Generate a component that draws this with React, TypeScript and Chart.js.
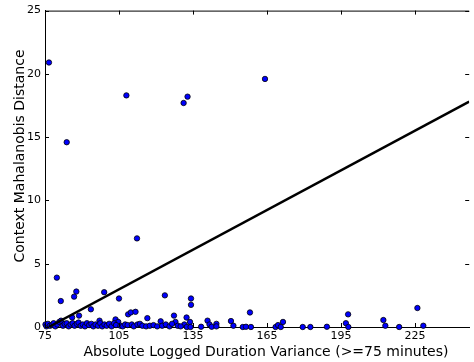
import React, { useEffect, useRef } from "react";
import { Chart, registerables } from "chart.js";

Chart.register(...registerables);

const xTicks = [75, 105, 135, 165, 195, 225];
const yTicks = [0, 5, 10, 15, 20, 25];
const xLabel = "Absolute Logged Duration Variance (>=75 minutes)";
const yLabel = "Context Mahalanobis Distance";

// fitted line endpoints [x, y]
const fitX = [76.5, 247];
const fitY = [0, 17.8];

// scatter points
const pointsX = [
  76.6, 83.8, 108, 131.2, 132.8, 164.2, 112.3,
  79.8, 81.4, 87.7, 86.8, 99, 105, 123.6, 134.2, 134.2, 158.1, 226, 197.9,
  93.6, 88.8, 86, 97.1, 103.6, 104.7, 108.7, 109.8, 111.7, 116.5, 121.9, 127.3, 127.9, 132.4,
  133.8, 131.5, 132.5, 134, 138.3, 140.9, 141.7, 142.6, 144.5, 144.5, 150.4, 151.4, 155.2, 156.5,
  158.5, 168.5, 169.5, 170.6, 171.5, 179.5, 182.6, 189.3, 197, 198, 212.2, 213, 218.6, 228.4,
  75.2, 75.6, 76.2, 77, 77.8, 78.5, 79.2, 80, 80.8, 81.5, 82.3, 83, 83.8, 84.6, 85.4, 86.2,
  87, 87.9, 88.6, 89.5, 90.3, 91.2, 92, 92.9, 93.8, 94.6, 95.5, 96.5, 97.4, 98.2, 99.1, 100,
  101, 102, 103, 103.8, 105.6, 106.5, 107.5, 108.5, 110.2, 111, 112.5, 113.5, 114.5, 116,
  117.5, 119, 120.5, 122.5, 124, 125.5, 126.5, 128.8, 130,
];
const pointsY = [
  20.9, 14.6, 18.3, 17.7, 18.2, 19.6, 7.0,
  3.9, 2.05, 2.8, 2.4, 2.75, 2.25, 2.5, 2.25, 1.75, 1.15, 1.5, 1.0,
  1.4, 0.9, 0.75, 0.5, 0.6, 0.4, 1.0, 1.15, 1.2, 0.7, 0.45, 0.9, 0.4, 0.75,
  0.4, 0.2, 0.0, 0.0, 0.02, 0.5, 0.2, 0.02, 0.25, 0.05, 0.47, 0.1, 0.0, 0.02,
  0.0, 0.0, 0.15, 0.0, 0.4, 0.0, 0.0, 0.02, 0.3, 0.0, 0.55, 0.1, 0.0, 0.1,
  0.2, 0.05, 0.25, 0.1, 0.15, 0.3, 0.05, 0.2, 0.4, 0.5, 0.1, 0.25, 0.3, 0.05, 0.2, 0.3,
  0.1, 0.25, 0.35, 0.1, 0.2, 0.05, 0.3, 0.15, 0.25, 0.05, 0.2, 0.1, 0.3, 0.05, 0.2, 0.1,
  0.25, 0.05, 0.3, 0.15, 0.1, 0.05, 0.2, 0.15, 0.2, 0.05, 0.2, 0.25, 0.1, 0.05,
  0.1, 0.15, 0.05, 0.1, 0.2, 0.05, 0.25, 0.1, 0.05,
];

const FONT = "'DejaVu Sans', sans-serif";

const framePlugin = {
  id: "frame",
  afterDraw(chart: any) {
    const { ctx, chartArea } = chart;
    const xs = chart.scales.x;
    const ys = chart.scales.y;
    ctx.save();
    ctx.strokeStyle = "#000";
    ctx.lineWidth = 1;
    ctx.beginPath();
    ctx.moveTo(chartArea.left, chartArea.top + 0.5);
    ctx.lineTo(chartArea.right, chartArea.top + 0.5);
    ctx.stroke();
    const len = 4;
    xTicks.forEach((v) => {
      const px = Math.round(xs.getPixelForValue(v)) + 0.5;
      ctx.beginPath();
      ctx.moveTo(px, chartArea.bottom);
      ctx.lineTo(px, chartArea.bottom - len);
      ctx.moveTo(px, chartArea.top);
      ctx.lineTo(px, chartArea.top + len);
      ctx.stroke();
    });
    yTicks.forEach((v) => {
      const py = Math.round(ys.getPixelForValue(v)) + 0.5;
      ctx.beginPath();
      ctx.moveTo(chartArea.left, py);
      ctx.lineTo(chartArea.left + len, py);
      ctx.moveTo(chartArea.right, py);
      ctx.lineTo(chartArea.right - len, py);
      ctx.stroke();
    });
    // axis titles (matplotlib places them relative to the full, uncropped axes)
    ctx.fillStyle = "#000";
    ctx.font = `14px ${FONT}`;
    ctx.textAlign = "center";
    ctx.textBaseline = "middle";
    ctx.fillText(xLabel, 266, 352);
    ctx.translate(20, 156);
    ctx.rotate(-Math.PI / 2);
    ctx.fillText(yLabel, 0, 0);
    ctx.restore();
  },
};

export default function App() {
  const ref = useRef<HTMLCanvasElement>(null);
  useEffect(() => {
    document.body.style.margin = "0";
    const scatter = pointsX.map((x, i) => ({ x, y: pointsY[i] }));
    const fit = fitX.map((x, i) => ({ x, y: fitY[i] }));
    const chart = new Chart(ref.current!, {
      type: "scatter",
      data: {
        datasets: [
          {
            type: "line",
            data: fit,
            borderColor: "#000",
            borderWidth: 2.5,
            pointRadius: 0,
            fill: false,
          } as any,
          {
            data: scatter,
            backgroundColor: "#0000ff",
            borderColor: "#000",
            borderWidth: 0.8,
            pointRadius: 2.7,
            clip: false,
          } as any,
        ],
      },
      options: {
        animation: false,
        responsive: true,
        maintainAspectRatio: false,
        layout: { padding: { top: 10, right: 0, left: 0, bottom: 0 } },
        plugins: { legend: { display: false }, tooltip: { enabled: false } },
        scales: {
          x: {
            type: "linear",
            min: 75,
            max: 247,
            grid: { display: false, drawTicks: false },
            border: { display: true, color: "#000", width: 1 },
            afterBuildTicks: (s: any) => {
              s.ticks = xTicks.map((v) => ({ value: v }));
            },
            afterFit: (s: any) => {
              s.height = 35;
            },
            ticks: {
              color: "#000",
              padding: 3,
              font: { family: FONT, size: 11 },
              maxRotation: 0,
              autoSkip: false,
            },
          },
          y: {
            type: "linear",
            min: 0,
            max: 25,
            grid: { display: false, drawTicks: false },
            border: { display: true, color: "#000", width: 1 },
            afterBuildTicks: (s: any) => {
              s.ticks = yTicks.map((v) => ({ value: v }));
            },
            afterFit: (s: any) => {
              s.width = 45;
            },
            ticks: {
              color: "#000",
              padding: 4,
              font: { family: FONT, size: 11 },
            },
          },
        },
      },
      plugins: [framePlugin],
    });
    return () => chart.destroy();
  }, []);
  return (
    <div style={{ position: "absolute", left: 0, top: 0, width: 474, height: 362, background: "#fff" }}>
      <canvas ref={ref} role="img" aria-label={`${yLabel} vs ${xLabel}`} />
    </div>
  );
}
